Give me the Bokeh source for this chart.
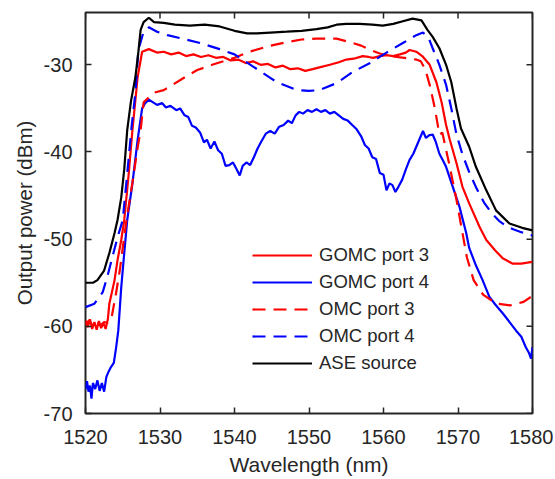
import math
from bokeh.plotting import figure
from bokeh.models import Legend, LegendItem, FixedTicker, Range1d, PrintfTickFormatter
from bokeh.embed import file_html
from bokeh.resources import INLINE

# ---------------- data ----------------
ase_x = [1520, 1521, 1521.6, 1522.5, 1523.2, 1523.9, 1524.3, 1524.8, 1525.2, 1525.6, 1526.1,
         1526.7, 1527.1, 1527.4, 1527.8, 1528.5, 1529.2, 1530.5, 1532, 1534, 1536, 1538, 1540,
         1541.7, 1543, 1544.8, 1547, 1549, 1551, 1552.5, 1553.7, 1555, 1556.8, 1558.5, 1559.9,
         1561.3, 1562.6, 1563.9, 1565.1, 1565.9, 1566.6, 1567.5, 1568.4, 1569.1, 1569.8, 1570.4,
         1571.5, 1572.4, 1573.8, 1575.1, 1576.9, 1578.6, 1580]
ase_y = [-55, -55, -54.7, -53.6, -51.6, -49.3, -47.8, -45.2, -42, -37.5, -34.2,
         -31.4, -28.5, -26, -25.1, -24.6, -25.1, -25.2, -25.4, -25.5, -25.4, -25.6, -26.1,
         -26.4, -26.4, -26.3, -26.2, -26.1, -25.9, -25.7, -25.4, -25.3, -25.3, -25.4, -25.5,
         -25.3, -25, -24.7, -24.9, -26, -26.8, -28.1, -30, -32, -35, -37.3,
         -39.4, -41.7, -44.4, -46.7, -48.2, -48.7, -49]

g3_x = [1520, 1520.3, 1520.6, 1520.9, 1521.2, 1521.5, 1521.8, 1522.1, 1522.4, 1522.7, 1523,
        1523.2, 1523.9, 1524.3, 1524.8, 1525.2, 1525.8, 1526.3, 1527, 1527.6, 1528.5, 1529.6,
        1530.5, 1531.5, 1532.5, 1533.5, 1534.5, 1535.5, 1536.5, 1537.5, 1538.5, 1539.5, 1540.5,
        1541.5, 1542.5, 1543.5, 1544.5, 1545.5, 1546.5, 1547.5, 1548.5, 1549.5, 1550.5, 1551.4,
        1552.8, 1554, 1555, 1556, 1557.2, 1558, 1558.6, 1559.5, 1560.4, 1561.3, 1562.2, 1563,
        1563.5, 1564.4, 1565.2, 1566.2, 1567.1, 1567.8, 1568.4, 1568.9, 1569.8, 1570.6, 1571.5,
        1572.9, 1573.8, 1575, 1576, 1577.3, 1578.5, 1579.3, 1580]
g3_y = [-59.3, -60.1, -59.2, -60.3, -59.5, -60.4, -59.4, -60.2, -59.6, -60.3, -59.2,
        -57.4, -54.7, -52.4, -50.1, -47.8, -42.5, -37.5, -31.4, -28.5, -28.2, -28.6,
        -28.5, -28.8, -28.6, -29.0, -28.8, -29.1, -28.9, -29.2, -29.1, -29.5, -29.4,
        -29.8, -29.6, -30.0, -29.9, -30.3, -30.1, -30.5, -30.4, -30.7, -30.5, -30.3,
        -30.0, -29.7, -29.4, -29.3, -29.0, -29.1, -29.2, -29.0, -28.9, -29.0, -28.8, -28.6,
        -28.3, -28.5, -29.0, -30.0, -32.0, -34.3, -36.9, -38.6, -41.3, -44.0, -45.9,
        -48.6, -50.1, -51.3, -52.2, -52.8, -52.8, -52.7, -52.6]

g4_x = [1520, 1520.2, 1520.4, 1520.6, 1520.8, 1521, 1521.3, 1521.6, 1521.9, 1522.2, 1522.5,
        1522.8, 1523.1, 1523.4, 1523.8, 1524.1, 1524.4, 1524.8, 1525.2, 1525.6, 1526.3, 1527,
        1527.6, 1528, 1528.5, 1529.6, 1530.3, 1530.8, 1531.4, 1532.2, 1532.7, 1533.3, 1533.8,
        1534.3, 1534.8, 1535.4, 1535.9, 1536.3, 1536.8, 1537.3, 1537.8, 1538.3, 1538.8, 1539.3,
        1539.8, 1540.3, 1540.7, 1541.1, 1541.6, 1542.1, 1542.6, 1543.1, 1543.6, 1544.2, 1544.8,
        1545.4, 1546, 1546.6, 1547.2, 1547.7, 1548.2, 1548.7, 1549.2, 1549.8, 1550.4, 1551,
        1551.6, 1552.2, 1552.8, 1553.4, 1554, 1554.6, 1555.2, 1555.8, 1556.4, 1557, 1557.5,
        1558, 1558.5, 1559, 1559.5, 1560, 1560.4, 1560.8, 1561.2, 1561.6, 1562, 1562.5, 1563,
        1563.5, 1564, 1564.4, 1564.8, 1565.3, 1565.7, 1566.1, 1566.6, 1567, 1567.5, 1568,
        1568.4, 1569.3, 1570.2, 1571.1, 1571.5, 1572.4, 1573.3, 1574.2, 1575, 1576, 1577,
        1577.8, 1578.5, 1579.1, 1579.5, 1579.8, 1580]
g4_y = [-67.2, -66.3, -67.5, -66.8, -68.3, -66.5, -67.2, -66.2, -67.4, -66.5, -67.5,
        -65.8, -65.2, -64.7, -64.2, -62.5, -60.5, -55.5, -51.6, -47.8, -43.6, -38.6,
        -35.0, -34.4, -34.0, -34.6, -34.4, -34.9, -34.7, -35.2, -35.0, -35.8, -36.0,
        -37.0, -37.2, -37.8, -38.9, -38.6, -39.6, -38.8, -39.8, -40.2, -41.6, -41.5,
        -41.2, -42.0, -42.7, -41.6, -41.2, -41.5, -40.6, -39.6, -38.8, -37.9, -37.6,
        -37.9, -37.1, -36.9, -36.4, -36.7, -35.8, -35.4, -35.6, -35.2, -35.4, -35.1,
        -35.4, -35.2, -35.6, -35.4, -35.8, -36.2, -36.4, -36.9, -37.4, -38.2, -39.2,
        -39.6, -40.6, -40.8, -42.4, -42.6, -44.4, -43.6, -43.8, -44.6, -44.0, -43.2, -42.0,
        -40.9, -40.2, -39.4, -38.6, -37.6, -38.4, -38.1, -38.0, -38.8, -40.2, -41.0,
        -41.7, -44.0, -46.3, -49.3, -51.0, -53.0, -54.7, -56.6, -57.5, -58.5, -59.6,
        -60.5, -61.2, -62.4, -63.0, -63.7, -62.4]

o3_x = [1520, 1520.5, 1521, 1521.5, 1522, 1522.5, 1523, 1523.5, 1524.1, 1524.6, 1525,
        1525.5, 1526.3, 1527, 1527.4, 1527.8, 1529.2, 1530.5, 1531.5, 1533, 1535, 1537,
        1540, 1542, 1544.4, 1547, 1549, 1551, 1553.7, 1555.5, 1557, 1558.2, 1559.5, 1560.8,
        1562.8, 1564.4, 1565, 1565.6, 1566.2, 1566.9, 1567.5, 1567.9, 1568.9, 1569.8, 1570.6,
        1571.2, 1572.1, 1573.4, 1575.2, 1577, 1578.8, 1580]
o3_y = [-59.8, -59.3, -60.0, -59.4, -59.9, -59.5, -59.6, -59.0, -56.2, -53.6, -51.0,
        -47.8, -43.5, -39.5, -37.5, -34.3, -33.2, -32.9, -32.4, -31.6, -30.6, -30.0,
        -29.2, -28.5, -27.9, -27.4, -27.1, -27.0, -27.0, -27.4, -27.8, -28.3, -28.7, -29.0,
        -29.2, -29.4, -29.6, -30.5, -32.3, -35.0, -38.0, -37.8, -41.7, -45.5, -49.3,
        -52.1, -54.7, -56.4, -57.4, -57.6, -57.2, -56.5]

o4_x = [1520, 1521.2, 1522.3, 1522.9, 1523.6, 1524.3, 1525, 1525.6, 1526.2, 1526.7, 1527.1,
        1527.8, 1528.5, 1529.6, 1531, 1533, 1535.4, 1538, 1540, 1542.5, 1544.8, 1545.7,
        1548.4, 1550, 1551.4, 1553.7, 1555.9, 1558.2, 1560.4, 1562.6, 1564.4, 1565.3, 1566,
        1566.6, 1567.5, 1568.4, 1569.1, 1569.8, 1570.6, 1571.5, 1572.5, 1573.5, 1574.5,
        1575.5, 1576.5, 1577.5, 1578.5, 1579.3, 1580]
o4_y = [-57.8, -57.4, -56.1, -54.4, -52.1, -49.8, -47.8, -42.5, -37.0, -33.2, -28.3,
        -26.2, -25.7, -26.2, -26.6, -27.0, -27.5, -28.2, -28.8, -30.2, -31.5, -32.0,
        -32.9, -33.0, -32.9, -32.1, -30.8, -29.8, -28.6, -27.5, -26.6, -26.3, -26.8,
        -28.1, -30.0, -32.3, -35.0, -38.0, -40.3, -42.3, -44.2, -45.8, -47.0,
        -47.9, -48.5, -48.9, -49.2, -49.4, -49.6]

x_ticks = [1520, 1530, 1540, 1550, 1560, 1570, 1580]
y_ticks = [-70, -60, -50, -40, -30]
x_min, x_max = 1520, 1580
y_min, y_max = -70, -24

# ---------------- figure ----------------
FONT = "Liberation Sans"
TXT = "#262626"

p = figure(width=553, height=479, output_backend="svg", toolbar_location=None,
           x_range=Range1d(x_min, x_max), y_range=Range1d(y_min, y_max),
           min_border_left=85, min_border_right=21, min_border_top=12, min_border_bottom=66,
           x_axis_label="Wavelength (nm)", y_axis_label="Output power (dBm)")
p.grid.visible = False
p.outline_line_color = TXT
p.outline_line_width = 2
p.background_fill_color = "white"
p.border_fill_color = "white"

for ax in p.xaxis + p.yaxis:
    ax.axis_line_color = None
    ax.major_tick_in = 6
    ax.major_tick_out = 0
    ax.major_tick_line_color = TXT
    ax.major_tick_line_width = 1.5
    ax.minor_tick_line_color = None
    ax.major_label_text_font = FONT
    ax.major_label_text_font_size = "20px"
    ax.major_label_text_color = TXT
    ax.axis_label_text_font = FONT
    ax.axis_label_text_color = TXT
    ax.axis_label_text_font_style = "normal"
    ax.formatter = PrintfTickFormatter(format="%d")

p.xaxis.ticker = FixedTicker(ticks=x_ticks)
p.yaxis.ticker = FixedTicker(ticks=y_ticks)
p.xaxis.axis_label_text_font_size = "21px"
p.yaxis.axis_label_text_font_size = "20.5px"
p.xaxis.major_label_standoff = 16
p.xaxis.axis_label_standoff = 6
p.yaxis.major_label_standoff = 13
p.yaxis.axis_label_standoff = 5

# mirrored tick marks on the top and right edges (clipped to the frame)
p.scatter(x_ticks, [y_max] * len(x_ticks), marker="dash", angle=math.pi / 2, size=12,
          line_color=TXT, line_width=1.5)
p.scatter([x_max] * len(y_ticks), y_ticks, marker="dash", size=12,
          line_color=TXT, line_width=1.5)

lw = 2.2
r_g3 = p.line(g3_x, g3_y, line_color="#ff0000", line_width=lw)
r_g4 = p.line(g4_x, g4_y, line_color="#0000ff", line_width=lw)
r_o3 = p.line(o3_x, o3_y, line_color="#ff0000", line_width=lw, line_dash="13 8")
r_o4 = p.line(o4_x, o4_y, line_color="#0000ff", line_width=lw, line_dash="13 8")
r_ase = p.line(ase_x, ase_y, line_color="#000000", line_width=lw)

legend = Legend(items=[
    LegendItem(label="GOMC port 3", renderers=[r_g3]),
    LegendItem(label="GOMC port 4", renderers=[r_g4]),
    LegendItem(label="OMC port 3", renderers=[r_o3]),
    LegendItem(label="OMC port 4", renderers=[r_o4]),
    LegendItem(label="ASE source", renderers=[r_ase]),
], location=(167, 39))
legend.label_text_font = FONT
legend.label_text_font_size = "18.5px"
legend.label_text_color = TXT
legend.glyph_width = 60
legend.glyph_height = 20
legend.label_height = 20
legend.label_standoff = 7
legend.spacing = 5
legend.padding = 0
legend.margin = 0
legend.border_line_color = None
legend.background_fill_alpha = 0
p.add_layout(legend)

open("out.html", "w").write(file_html(p, INLINE))
